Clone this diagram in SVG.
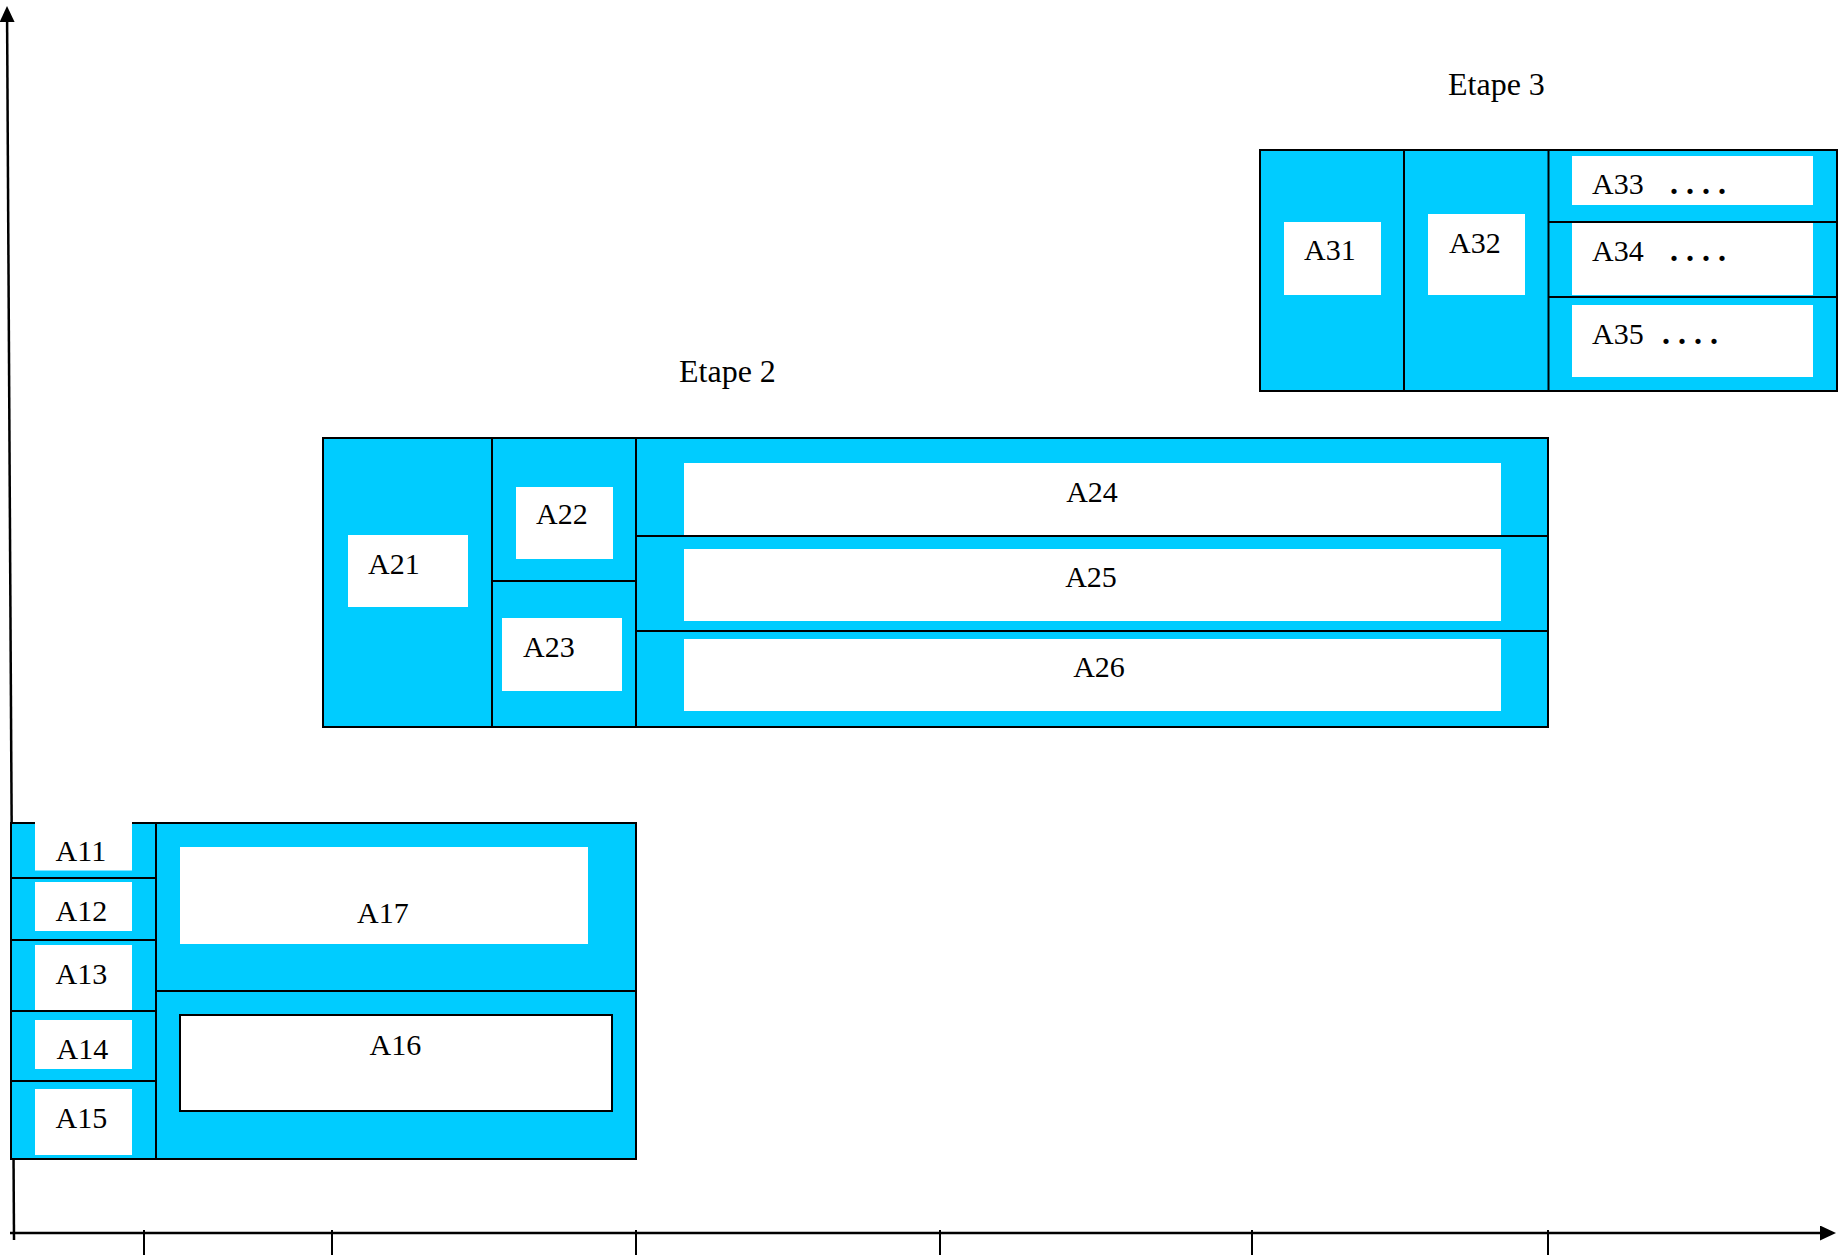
<svg xmlns="http://www.w3.org/2000/svg" width="1843" height="1255" viewBox="0 0 1843 1255">
<style>
.box{fill:#00CCFF;stroke:#000;stroke-width:2}
.div{stroke:#000;stroke-width:2;fill:none}
.w{fill:#fff;stroke:none}
.wb{fill:#fff;stroke:#000;stroke-width:2}
.t{font-family:"Liberation Serif","Times New Roman",serif;font-size:30px;fill:#000}
.e{font-family:"Liberation Serif","Times New Roman",serif;font-size:32px;fill:#000}
.dots{letter-spacing:8px;font-weight:bold;font-size:32px}
.axis{stroke:#000;stroke-width:2.5;fill:none}
.tick{stroke:#000;stroke-width:2;fill:none}
</style>
<defs>
<marker id="arr" markerUnits="userSpaceOnUse" markerWidth="18" markerHeight="18" refX="0" refY="7.5" orient="auto">
<path d="M0,0 L16,7.5 L0,15 z" fill="#000"/>
</marker>
</defs>
<rect width="1843" height="1255" fill="#fff"/>

<g id="connectors">
<line class="axis" x1="14" y1="1240" x2="7.1" y2="22" marker-end="url(#arr)"/>
<line class="axis" x1="10" y1="1233" x2="1820" y2="1233" marker-end="url(#arr)"/>
<line class="tick" x1="144" y1="1230" x2="144" y2="1255"/>
<line class="tick" x1="332" y1="1230" x2="332" y2="1255"/>
<line class="tick" x1="636" y1="1230" x2="636" y2="1255"/>
<line class="tick" x1="940" y1="1230" x2="940" y2="1255"/>
<line class="tick" x1="1252" y1="1230" x2="1252" y2="1255"/>
<line class="tick" x1="1548" y1="1230" x2="1548" y2="1255"/>
</g>

<g id="etape1">
<rect class="box" x="11" y="823" width="625" height="336"/>
<line class="div" x1="156" y1="823" x2="156" y2="1159"/>
<line class="div" x1="11" y1="878" x2="156" y2="878"/>
<line class="div" x1="11" y1="940" x2="156" y2="940"/>
<line class="div" x1="11" y1="1011" x2="156" y2="1011"/>
<line class="div" x1="11" y1="1081" x2="156" y2="1081"/>
<line class="div" x1="156" y1="991" x2="636" y2="991"/>
<g id="A11"><rect class="w" x="35" y="821.5" width="97" height="49"/><text class="t" x="55.6" y="861">A11</text></g>
<g id="A12"><rect class="w" x="35" y="882" width="97" height="49"/><text class="t" x="55.6" y="921">A12</text></g>
<g id="A13"><rect class="w" x="35" y="945" width="97" height="65"/><text class="t" x="55.6" y="984">A13</text></g>
<g id="A14"><rect class="w" x="35" y="1020" width="97" height="49"/><text class="t" x="56.5" y="1059">A14</text></g>
<g id="A15"><rect class="w" x="35" y="1089" width="97" height="66"/><text class="t" x="55.6" y="1128">A15</text></g>
<g id="A17"><rect class="w" x="180" y="847" width="408" height="97"/><text class="t" x="357" y="923">A17</text></g>
<g id="A16"><rect class="wb" x="180" y="1015" width="432" height="96"/><text class="t" x="369.5" y="1055">A16</text></g>
</g>

<g id="etape2">
<text class="e" x="679" y="382">Etape 2</text>
<rect class="box" x="323" y="438" width="1225" height="289"/>
<line class="div" x1="492" y1="438" x2="492" y2="727"/>
<line class="div" x1="636" y1="438" x2="636" y2="727"/>
<line class="div" x1="492" y1="581" x2="636" y2="581"/>
<line class="div" x1="636" y1="536" x2="1548" y2="536"/>
<line class="div" x1="636" y1="631" x2="1548" y2="631"/>
<g id="A21"><rect class="w" x="348" y="535" width="120" height="72"/><text class="t" x="368" y="574">A21</text></g>
<g id="A22"><rect class="w" x="516" y="487" width="97" height="72"/><text class="t" x="536" y="524">A22</text></g>
<g id="A23"><rect class="w" x="502" y="618" width="120" height="73"/><text class="t" x="523" y="657">A23</text></g>
<g id="A24"><rect class="w" x="684" y="463" width="817" height="72"/><text class="t" x="1092" y="502" text-anchor="middle">A24</text></g>
<g id="A25"><rect class="w" x="684" y="549" width="817" height="72"/><text class="t" x="1091" y="587" text-anchor="middle">A25</text></g>
<g id="A26"><rect class="w" x="684" y="639" width="817" height="72"/><text class="t" x="1099" y="677" text-anchor="middle">A26</text></g>
</g>

<g id="etape3">
<text class="e" x="1448" y="95">Etape 3</text>
<rect class="box" x="1260" y="150" width="577" height="241"/>
<line class="div" x1="1404" y1="150" x2="1404" y2="391"/>
<line class="div" x1="1548.5" y1="150" x2="1548.5" y2="391"/>
<line class="div" x1="1548.5" y1="222" x2="1837" y2="222"/>
<line class="div" x1="1548.5" y1="297" x2="1837" y2="297"/>
<g id="A31"><rect class="w" x="1284" y="222" width="97" height="73"/><text class="t" x="1304" y="260">A31</text></g>
<g id="A32"><rect class="w" x="1428" y="214" width="97" height="81"/><text class="t" x="1449" y="253">A32</text></g>
<g id="A33"><rect class="w" x="1572" y="156" width="241" height="49"/><text class="t" x="1592" y="194">A33<tspan class="dots" x="1670">....</tspan></text></g>
<g id="A34"><rect class="w" x="1572" y="223" width="241" height="72"/><text class="t" x="1592" y="261">A34<tspan class="dots" x="1670">....</tspan></text></g>
<g id="A35"><rect class="w" x="1572" y="305" width="241" height="72"/><text class="t" x="1592" y="344">A35<tspan class="dots" x="1662">....</tspan></text></g>
</g>
</svg>
